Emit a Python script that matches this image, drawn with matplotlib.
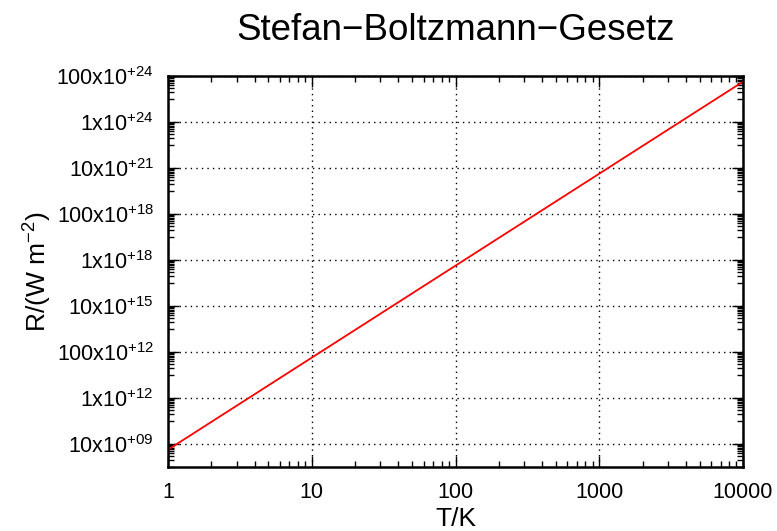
import numpy as np
import matplotlib
matplotlib.use("Agg")
import matplotlib.pyplot as plt
from matplotlib.ticker import FixedLocator, NullFormatter

plt.rcParams['font.family'] = ['Liberation Sans', 'DejaVu Sans']
plt.rcParams['mathtext.default'] = 'regular'

# data (straight line in log-log, slope 4)
temps = [1, 10, 100, 1000, 10000]
radiance = [5.67e9, 5.67e13, 5.67e17, 5.67e21, 5.67e25]

x_ticks = [1, 10, 100, 1000, 10000]
x_labels = ['1', '10', '100', '1000', '10000']
y_ticks = [1e10, 1e12, 1e14, 1e16, 1e18, 1e20, 1e22, 1e24, 1e26]
y_labels = [r'10x10$^{+09}$', r'1x10$^{+12}$', r'100x10$^{+12}$',
            r'10x10$^{+15}$', r'1x10$^{+18}$', r'100x10$^{+18}$',
            r'10x10$^{+21}$', r'1x10$^{+24}$', r'100x10$^{+24}$']

fig = plt.figure(figsize=(7.77, 5.31), dpi=100)
ax = fig.add_axes([168 / 777, 1 - 467 / 531, (743 - 168) / 777, (467 - 76) / 531])

ax.plot(temps, radiance, color='#ff0000', lw=1.3)
ax.set_xscale('log')
ax.set_yscale('log')
ax.set_xlim(1, 10000)
ax.set_ylim(1e9, 1e26)

ax.xaxis.set_major_locator(FixedLocator(x_ticks))
ax.set_xticklabels(x_labels)
ax.xaxis.set_minor_locator(FixedLocator([m * d for d in x_ticks[:-1] for m in range(2, 10)]))
ax.xaxis.set_minor_formatter(NullFormatter())

ax.yaxis.set_major_locator(FixedLocator(y_ticks))
ax.set_yticklabels(y_labels)
ax.yaxis.set_minor_locator(FixedLocator([t * j / 10 for t in y_ticks for j in range(1, 10)]))
ax.yaxis.set_minor_formatter(NullFormatter())

ax.tick_params(which='both', direction='in', top=True, right=True, labelsize=15.5, color='black')
ax.tick_params(which='major', length=8, width=1)
ax.tick_params(which='minor', length=4, width=1)
ax.tick_params(axis='x', pad=11)
ax.tick_params(axis='y', pad=10)

for s in ax.spines.values():
    s.set_linewidth(1.8)

ax.grid(True, which='major', color='black', linestyle=(0, (1, 3)), linewidth=1)

ax.set_title('Stefan\u2212Boltzmann\u2212Gesetz', fontsize=26.5, pad=26)
ax.set_xlabel('T/K', fontsize=19, labelpad=3)
ax.set_ylabel(r'R/(W m$^{-2}$)', fontsize=19, labelpad=2)

fig.savefig('out.png', dpi=100)
